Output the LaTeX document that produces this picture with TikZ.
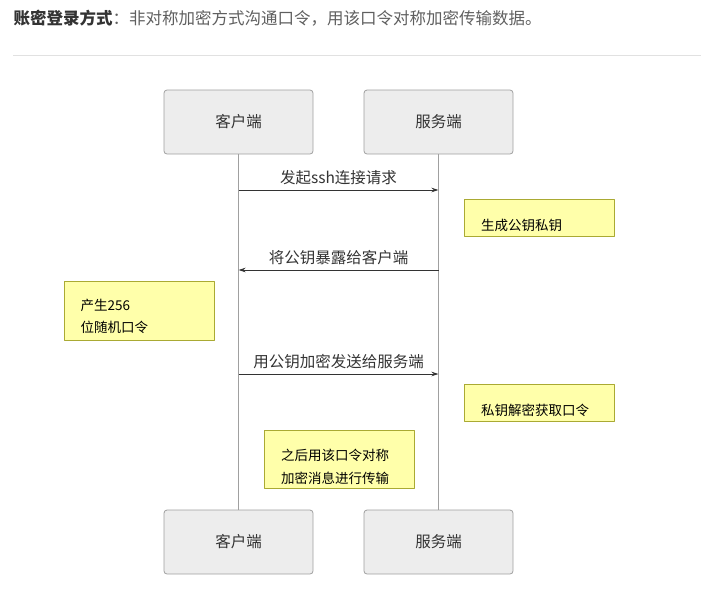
\documentclass[tikz,border=0pt]{standalone}
\usepackage{fontspec}
\setmainfont{Noto Sans CJK SC}
\usetikzlibrary{arrows.meta}
\definecolor{boxfill}{RGB}{237,237,237}
\definecolor{boxline}{RGB}{160,160,160}
\definecolor{notefill}{RGB}{255,255,170}
\definecolor{noteline}{RGB}{170,170,51}
\definecolor{ink}{RGB}{51,51,51}
\definecolor{softink}{RGB}{95,95,95}
\definecolor{rulegray}{RGB}{225,225,225}
\tikzset{
  actor/.style={draw=boxline, fill=boxfill, rounded corners=3pt, line width=0.8pt,
    minimum width=149pt, minimum height=64pt, inner sep=0pt,
    font=\fontsize{15.5}{18}\selectfont, text=ink},
  notebox/.style={draw=noteline, fill=notefill, line width=0.8pt, anchor=north west,
    minimum width=150pt, inner sep=0pt},
  notetext/.style={anchor=west, inner sep=0pt, font=\fontsize{13.5}{16}\selectfont, text=black},
  lifeline/.style={draw=boxline, line width=0.8pt},
  msgline/.style={draw=ink, line width=0.9pt, ->},
  msglabel/.style={midway, yshift=12pt, inner sep=0pt, font=\fontsize{15.5}{18}\selectfont, text=ink}
}
\begin{document}
\begin{tikzpicture}[x=1pt, y=-1pt, line join=round, >={Stealth[length=7pt,width=4.5pt]}]
  \useasboundingbox (0,0) rectangle (701,606);
  % heading
  \node[anchor=west, inner sep=0pt, font=\fontsize{16.5}{20}\selectfont] (title) at (13.5,18)
    {\textcolor{ink}{\bfseries 账密登录方式}\textcolor{softink}{：非对称加密方式沟通口令，用该口令对称加密传输数据。}};
  \draw[rulegray, line width=0.8pt] (13,55) -- (701,55);
  % actors
  \node[actor] (cli) at (238.5,122) {客户端};
  \node[actor] (srv) at (438.5,122) {服务端};
  \node[actor] (cliB) at (238.5,542) {客户端};
  \node[actor] (srvB) at (438.5,542) {服务端};
  \draw[lifeline] (cli.south) -- (cliB.north);
  \draw[lifeline] (srv.south) -- (srvB.north);
  % messages
  \foreach \y/\n in {190/1,270/2,374/3}{
    \coordinate (c\n) at (238.5,\y);
    \coordinate (s\n) at (438.5,\y);
  }
  \draw[msgline] (c1) -- node[msglabel]{发起ssh连接请求} (s1);
  \draw[msgline] (s2) -- node[msglabel]{将公钥暴露给客户端} (c2);
  \draw[msgline] (c3) -- node[msglabel]{用公钥加密发送给服务端} (s3);
  % notes
  \node[notebox, minimum height=37pt] (keygen) at (464,199) {};
  \node[notetext] (keygenT) at (481,225.5) {生成公钥私钥};
  \node[notebox, minimum height=59pt] (rand) at (64,281) {};
  \node[notetext] (randA) at (80.5,305.5) {产生256};
  \node[notetext] (randB) at (80.5,327) {位随机口令};
  \node[notebox, minimum height=37pt] (dec) at (464,384) {};
  \node[notetext] (decT) at (481,410.5) {私钥解密获取口令};
  \node[notebox, minimum height=58pt] (sym) at (264,430) {};
  \node[notetext] (symA) at (281,455.5) {之后用该口令对称};
  \node[notetext] (symB) at (281,478.5) {加密消息进行传输};
\end{tikzpicture}
\end{document}
